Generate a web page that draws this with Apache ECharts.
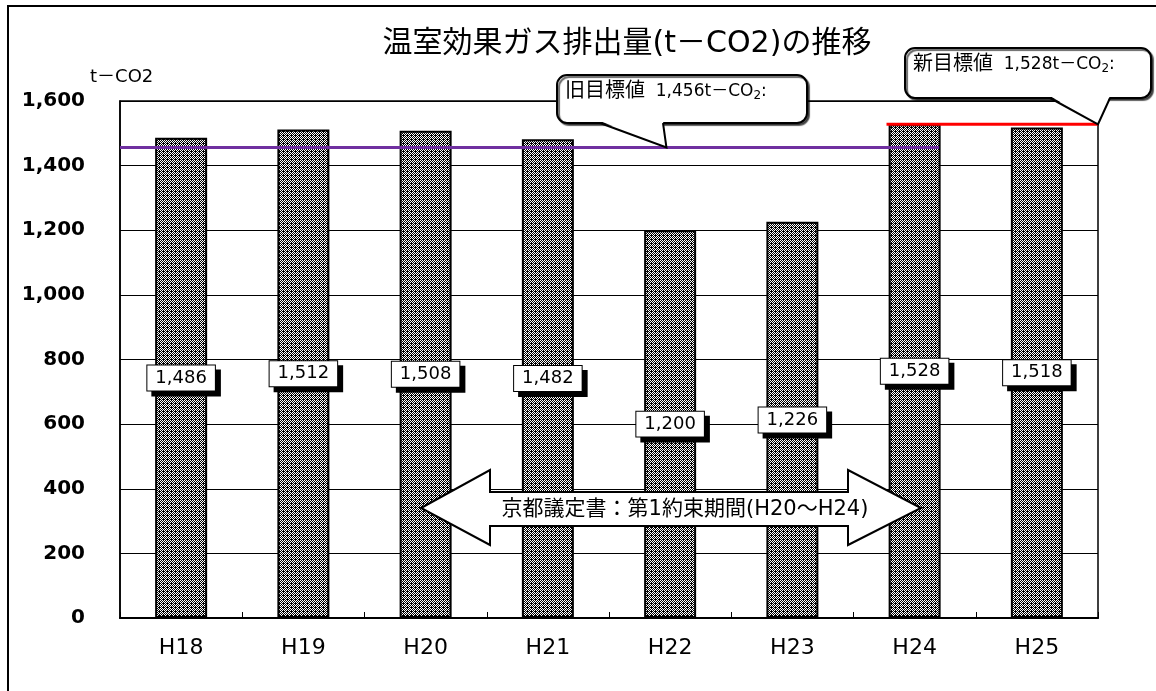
<!DOCTYPE html>
<html><head><meta charset="utf-8">
<script src="https://cdn.jsdelivr.net/npm/echarts@6/dist/echarts.min.js"></script>
<style>html,body{margin:0;padding:0;background:#fff}#c{width:1156px;height:691px}</style>
</head><body><div id="c"></div>
<script>
// ---- data ----
const categories = ['H18','H19','H20','H21','H22','H23','H24','H25'];
const emissions = [1486, 1512, 1508, 1482, 1200, 1226, 1528, 1518];
const yMin = 0, yMax = 1600, yInterval = 200;
const oldTarget = 1456;            // 旧目標値
const oldTargetSpan = [0, 6.7];    // in category-slot units
const newTarget = 1528;            // 新目標値
const newTargetSpan = [6.27, 8];
const titleText = '温室効果ガス排出量(t－CO2)の推移';
const unitText = 't－CO2';
const arrowText = '京都議定書：第1約束期間(H20～H24)';

// ---- pattern fill ----
const pc = document.createElement('canvas');
pc.width = 4; pc.height = 4;
const pctx = pc.getContext('2d');
pctx.fillStyle = '#000'; pctx.fillRect(0,0,4,4);
pctx.fillStyle = '#fff';
[[0,0],[2,0],[1,1],[3,1],[0,2],[2,2],[1,3]].forEach(p => pctx.fillRect(p[0],p[1],1,1));

const fmt = v => Number(v).toLocaleString('en-US');
const FONT = '"DejaVu Sans", "Noto Sans CJK JP", sans-serif';

const chart = echarts.init(document.getElementById('c'));
chart.setOption({
  animation: false,
  backgroundColor: '#fff',
  grid: { left: 120, right: 58, top: 101, bottom: 73, show: true, borderColor: '#000', borderWidth: 1.5 },
  xAxis: [{
    type: 'category', data: categories,
    axisLine: { lineStyle: { color: '#000', width: 2 } },
    axisTick: { show: true, inside: true, length: 6, lineStyle: { color: '#000' } },
    axisLabel: { color: '#000', fontSize: 22, fontFamily: FONT, margin: 19 }
  }, {
    type: 'value', min: 0, max: 8, show: false
  }],
  yAxis: {
    type: 'value', min: yMin, max: yMax, interval: yInterval,
    axisLine: { show: true, lineStyle: { color: '#000', width: 1.5 } },
    axisTick: { show: false },
    splitLine: { lineStyle: { color: '#000', width: 1 } },
    axisLabel: { color: '#000', fontSize: 20, fontWeight: 'bold', fontFamily: FONT, margin: 35, formatter: fmt }
  },
  series: [{
    type: 'bar', xAxisIndex: 0, data: emissions, barWidth: 52, z: 2,
    itemStyle: { color: { image: pc, repeat: 'repeat' }, borderColor: '#000', borderWidth: 2 },
    label: {
      show: true, position: 'inside', formatter: p => fmt(p.value),
      color: '#000', fontSize: 18, fontFamily: FONT,
      backgroundColor: '#fff', borderColor: '#000', borderWidth: 1,
      padding: [4, 8, 3, 8],
      shadowColor: '#000', shadowOffsetX: 5, shadowOffsetY: 5, shadowBlur: 0
    }
  }, {
    type: 'line', xAxisIndex: 1, symbol: 'none', z: 4,
    data: [[oldTargetSpan[0], oldTarget], [oldTargetSpan[1], oldTarget]],
    lineStyle: { color: '#7030A0', width: 3 }
  }, {
    type: 'line', xAxisIndex: 1, symbol: 'none', z: 4,
    data: [[newTargetSpan[0], newTarget], [newTargetSpan[1], newTarget]],
    lineStyle: { color: '#FF0000', width: 3 }
  }]
});

function callout(x, y, w, h, tailL, tailR, tip, rich, textKeyStr) {
  return [
    { type: 'rect', z: 100, shape: { x, y, width: w, height: h, r: 10 },
      style: { fill: '#fff', stroke: '#000', lineWidth: 2, shadowColor: 'rgba(0,0,0,0.6)', shadowOffsetX: 2, shadowOffsetY: 2, shadowBlur: 1 } },
    { type: 'polygon', z: 101, shape: { points: [[tailL, y + h - 2], [tailR, y + h - 2], tip] },
      style: { fill: '#fff', stroke: null } },
    { type: 'polyline', z: 102, shape: { points: [[tailL, y + h], tip, [tailR, y + h]] },
      style: { stroke: '#000', lineWidth: 2, fill: null } },
    { type: 'text', z: 103, x: x + 8, y: y + 7,
      style: { text: textKeyStr, rich, fill: '#000' } }
  ];
}
const richTxt = {
  k: { fontFamily: FONT, fontSize: 20, fill: '#000', color: '#000' },
  n: { fontFamily: FONT, fontSize: 17, fill: '#000', color: '#000' },
  s: { fontFamily: FONT, fontSize: 12, fill: '#000', color: '#000', verticalAlign: 'bottom', padding: [8,0,0,0] }
};

const oldTip = chart.convertToPixel({ xAxisIndex: 1, yAxisIndex: 0 }, [4.47, oldTarget]);
const newTip = chart.convertToPixel({ xAxisIndex: 1, yAxisIndex: 0 }, [newTargetSpan[1], newTarget]);

const graphics = [
  { type: 'rect', z: 0, shape: { x: 8, y: 6, width: 1160, height: 700 }, style: { fill: null, stroke: '#000', lineWidth: 2 } },
  { type: 'text', z: 100, x: 627, y: 44,
    style: { text: titleText, font: '30px ' + FONT, fill: '#000', textAlign: 'center', textVerticalAlign: 'middle' } },
  { type: 'text', z: 100, x: 90, y: 77,
    style: { text: unitText, font: '18px ' + FONT, fill: '#000', textAlign: 'left', textVerticalAlign: 'middle' } },
  { type: 'polygon', z: 100,
    shape: { points: [[421,508],[490,470],[490,492],[848,492],[848,470],[921,508],[848,545],[848,526],[490,526],[490,545]] },
    style: { fill: '#fff', stroke: '#000', lineWidth: 2 } },
  { type: 'text', z: 101, x: 685, y: 510,
    style: { text: arrowText, font: '21px ' + FONT, fill: '#000', textAlign: 'center', textVerticalAlign: 'middle' } }
];
graphics.push(...callout(557, 75, 250, 48, 600, 663, oldTip, richTxt,
  '{k|旧目標値}{n|  ' + fmt(oldTarget) + 't－CO}{s|2}{n|:}'));
graphics.push(...callout(905, 48, 246, 50, 1050, 1110, newTip, richTxt,
  '{k|新目標値}{n|  ' + fmt(newTarget) + 't－CO}{s|2}{n|:}'));
chart.setOption({ graphic: graphics });
</script></body></html>
